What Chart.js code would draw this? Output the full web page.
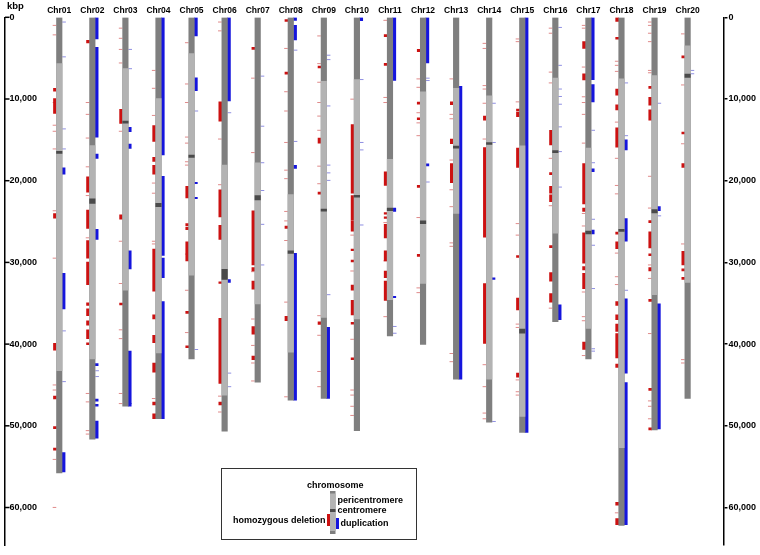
<!DOCTYPE html>
<html><head><meta charset="utf-8">
<script src="https://cdn.jsdelivr.net/npm/chart.js@4.4.1/dist/chart.umd.min.js"></script>
<style>html,body{margin:0;padding:0;background:#fff;}#wrap{width:760px;height:555px;}</style>
</head><body><div id="wrap"><canvas id="c" width="760" height="555"></canvas></div>
<script>
const chromosomes = ['Chr01','Chr02','Chr03','Chr04','Chr05','Chr06','Chr07','Chr08','Chr09','Chr10','Chr11','Chr12','Chr13','Chr14','Chr15','Chr16','Chr17','Chr18','Chr19','Chr20'];
const chromLength = [55770,51630,47610,49140,41810,50670,44670,46870,46660,50590,39000,40030,44300,49560,50800,37260,41810,62180,50510,46660];
const periStart = [5670,15690,6290,9940,4430,18090,17800,21690,7830,7620,17390,9110,8690,9610,15730,7450,16020,7540,7120,3480];
const periEnd = [43260,41810,33410,41070,31550,46240,35070,40990,36720,36930,34570,32580,24010,44300,48850,26410,38090,52660,33950,32460];
const centStart = [16400,22230,12700,22770,16850,30840,21820,28570,23470,21780,23350,24920,15770,15320,38170,16310,26170,25960,23520,6960];
const centEnd = [16650,22770,12950,23180,17140,32090,22360,28900,23730,22030,23680,25250,16030,15570,38670,16560,26500,26210,23930,7370];
const yTicks = [0,10000,20000,30000,40000,50000,60000];

// homozygous deletions: [chromosome number, start kbp, end kbp]
const deletions = [
[1,8690,9030],[1,9940,11760],[1,24010,24590],[1,39910,40740],[1,46370,46700],[1,50090,50340],[1,52740,52990],
[2,2820,3150],[2,19540,21400],[2,23600,25830],[2,27320,29480],[2,29970,32710],[2,34940,35270],[2,35690,36520],[2,37140,37670],[2,38250,39330],[2,39830,40080],
[3,11260,13000],[3,24180,24720],[3,34980,35190],
[4,13250,15190],[4,17140,17640],[4,18130,19210],[4,28360,33530],[4,36430,36930],[4,38920,39830],[4,42310,43430],[4,47110,47440],[4,48520,49140],
[5,20700,22110],[5,25250,25500],[5,25670,26000],[5,27490,29810],[5,35980,36230],[5,40200,40450],
[6,10350,12710],[6,21110,24430],[6,25460,27200],[6,32380,32580],[6,36850,44800],[6,47110,47440],
[7,3690,3930],[7,23680,30310],[7,30640,31050],[7,32290,33290],[7,37840,38790],[7,41480,41900],
[8,290,500],[8,6710,6960],[8,25540,25830],[8,36600,37140],
[9,5960,6210],[9,14780,15400],[9,21400,21650],[9,37260,37590],
[10,13120,21530],[10,21820,24840],[10,24920,26170],[10,28360,28570],[10,29730,29930],[10,32790,33410],[10,34650,36430],[10,37340,37550],[10,41690,41900],
[11,2110,2360],[11,5630,5880],[11,18920,20580],[11,23890,24100],[11,24430,24630],[11,25340,26990],[11,28570,29810],[11,31050,31880],[11,32290,34650],
[12,3930,4220],[12,10390,10640],[12,12300,12540],[12,20580,20820],[12,29020,29270],
[13,10350,10680],[13,14900,15480],[13,17890,20250],
[14,12090,12590],[14,15940,26910],[14,32580,39910],
[15,11220,11470],[15,11590,12170],[15,16020,18380],[15,29150,29390],[15,34360,35810],[15,43550,44050],
[16,13830,15610],[16,19000,19250],[16,20700,21530],[16,21740,22560],[16,27950,28190],[16,31260,32290],[16,33820,34860],
[17,2980,3810],[17,6910,7660],[17,17890,22850],[17,23350,23760],[17,26370,30100],[17,30510,30930],[17,31340,33200],[17,39740,40660],
[18,0,500],[18,2440,2690],[18,8780,9520],[18,10720,11340],[18,13540,15900],[18,26290,26540],[18,27490,28320],[18,34780,35270],[18,36430,37010],[18,37550,38460],[18,38710,41690],[18,42440,42850],[18,59370,59700],[18,61360,62100],
[19,8450,8690],[19,9810,10760],[19,11340,12590],[19,24880,25130],[19,26250,28240],[19,28940,29190],[19,30640,31050],[19,34530,34780],[19,45420,45660],[19,50260,50510],
[20,4720,4970],[20,14040,14280],[20,17890,18380],[20,28650,30310],[20,30800,31050],[20,31840,32090]
];
// small deletion marks: [chromosome number, position kbp]
const deletionMarks = [
[1,990],[1,2150],[1,10430],[1,13210],[1,13950],[1,16110],[1,23680],[1,29480],[1,45000],[1,45620],[1,54110],[1,59990],
[2,10430],[2,11880],[2,14780],[2,18300],[2,21820],[2,26990],[2,46040],[2,47070],[2,50590],[2,51010],
[3,1330],[3,2570],[3,3930],[3,5590],[3,13950],[3,27410],[3,32580],[3,38250],[3,39330],[3,46040],[3,47280],
[4,6500],[4,8690],[4,12010],[4,20290],[4,21530],[4,27410],[4,27740],[4,46660],
[5,3110],[5,8160],[5,10430],[5,14660],[5,15400],[5,17680],[5,18090],[5,28980],[5,33410],[5,38590],
[6,580],[6,1660],[6,14900],[6,20490],[6,46370],[6,48310],
[7,7450],[7,16560],[7,31130],[7,36930],[7,40160],[7,42310],[7,44510],
[8,3810],[8,9110],[8,11470],[8,15320],[8,18710],[8,19750],[8,23760],[8,24920],[8,27320],[8,34860],[8,46450],
[9,2280],[9,5670],[9,7950],[9,10430],[9,12090],[9,13830],[9,18220],[9,20370],[9,36520],[9,38920],[9,43350],[9,45210],
[10,10020],[10,26660],[10,31050],[10,39410],[10,45620],[10,46240],[10,47610],[10,48730],
[11,370],[11,9810],[11,10430],[11,25130],[11,29810],[11,36640],
[12,7540],[12,8570],[12,11680],[12,12920],[12,14490],[12,24510],[12,33120],[12,33700],
[13,7540],[13,11880],[13,12420],[13,17470],[13,21110],[13,23180],[13,27610],[13,28030],[13,41150],[13,42150],
[14,3190],[14,3810],[14,8360],[14,8780],[14,10520],[14,14900],[14,42520],[14,45210],[14,48440],[14,49140],
[15,2650],[15,2980],[15,10350],[15,25250],[15,26660],[15,37550],[15,37960],[15,44380],[15,45830],[15,46240],
[16,1330],[16,1950],[16,6710],[16,8030],[16,17260],[16,23060],[16,35600],
[17,990],[17,1330],[17,6090],[17,9730],[17,10430],[17,11880],[17,15400],[17,24010],[17,25540],[17,33620],[17,36640],[17,37140],[17,41400],
[18,5380],[18,5880],[18,6620],[18,12830],[18,17260],[18,20580],[18,21610],[18,28860],[18,31750],[18,32710],[18,60650],
[19,580],[19,990],[19,1950],[19,2980],[19,6500],[19,6790],[19,19460],[19,23350],[19,30310],[19,31960],[19,38710],[19,46950],[19,47610],[19,49140],
[20,2030],[20,8280],[20,15480],[20,27740],[20,41900],[20,42310]
];
// duplications: [chromosome number, start kbp, end kbp]
const duplications = [
[1,18420,19210],[1,31340,35690],[1,53280,55640],
[2,0,2650],[2,3690,14660],[2,16730,17260],[2,25960,27200],[2,42390,42640],[2,46740,46990],[2,47360,47610],[2,49430,51500],
[3,13460,13990],[3,15530,16060],[3,28570,30800],[3,40860,47610],
[4,0,16850],[4,19460,29150],[4,29480,31880],[4,34780,49140],
[5,0,2280],[5,7410,8980],[5,20200,20370],[5,22030,22190],
[6,0,10230],[6,32090,32460],
[8,0,370],[8,990,2770],[8,18130,18510],[8,28900,46870],
[9,37960,46660],
[10,0,410],
[11,0,7740],[11,23350,23760],[11,34160,34320],
[12,0,5590],[12,17930,18180],
[13,8450,44300],
[14,31880,32090],
[15,0,50800],
[16,35190,37010],
[17,0,7620],[17,8240,10350],[17,18550,18880],[17,26040,26500],
[18,14990,16230],[18,24630,27410],[18,34450,43550],[18,44710,62100],
[19,23180,23680],[19,35070,50380]
];
// small duplication marks: [chromosome number, position kbp]
const duplicationMarks = [
[1,580],[1,4840],[1,13660],[1,16110],[1,38380],[1,44590],
[2,43260],[2,43970],
[3,3930],[3,6290],[3,47280],
[5,11470],[5,40660],
[6,11680],[6,43550],[6,45210],
[7,7200],[7,13330],[7,17800],[7,21200],[7,25340],[7,30310],
[8,4020],[8,15190],
[9,4640],[9,5180],[9,10850],[9,18090],[9,19040],[9,19960],[9,33950],
[10,7620],[10,15320],[10,16230],[10,25420],
[11,37840],[11,38670],
[12,7450],[12,7740],[12,20160],
[14,10520],[14,15320],[14,49470],
[16,1240],[16,5880],[16,8780],[16,9690],[16,10640],[16,13410],[16,16440],[16,20780],
[17,13830],[17,17800],[17,24720],[17,27900],[17,33200],[17,40570],[17,40860],
[18,8030],[18,14490],[18,33410],
[19,10520],[19,24300],
[20,6500],[20,6910]
];

const FONT = "'Liberation Sans', Arial, sans-serif";
const DARK = '#7f7f7f', LIGHT = '#b3b3b3', CENT = '#4a4a4a';
const RED = '#cc1111', BLUE = '#1515dd', RED_T = '#e08a8a', BLUE_T = '#8f8fe2';
const SIDE = 0.13;   // offset of side bars, in chromosome units
const MARK = 0.145;

const idx = chromosomes.map((c, i) => i + 1);

const overlay = {
  id: 'overlay',
  afterDraw(chart) {
    const ctx = chart.ctx;
    const ys = chart.scales.y;
    const left = chart.chartArea.left;
    ctx.save();
    ctx.strokeStyle = '#000'; ctx.lineWidth = 1.5;
    yTicks.forEach(v => {
      const p = ys.getPixelForValue(v);
      ctx.beginPath(); ctx.moveTo(left, p); ctx.lineTo(left + 4.5, p); ctx.stroke();
    });
    ctx.fillStyle = '#000';
    ctx.font = 'bold 9.5px ' + FONT;
    ctx.textBaseline = 'alphabetic'; ctx.textAlign = 'left';
    ctx.fillText('kbp', 7, 9);

    // legend box
    ctx.strokeStyle = '#333'; ctx.lineWidth = 1;
    ctx.strokeRect(221.5, 468.5, 195, 71);
    ctx.fillStyle = DARK; ctx.fillRect(330, 491, 5.5, 43);
    ctx.fillStyle = LIGHT; ctx.fillRect(330, 493.5, 5.5, 37.5);
    ctx.fillStyle = CENT; ctx.fillRect(330, 509, 5.5, 3);
    ctx.fillStyle = RED; ctx.fillRect(327, 514, 3, 12);
    ctx.fillStyle = BLUE; ctx.fillRect(336, 518, 3, 11);
    ctx.fillStyle = '#000';
    ctx.font = 'bold 9px ' + FONT;
    ctx.textBaseline = 'middle';
    ctx.textAlign = 'left';
    ctx.fillText('chromosome', 307, 485.5);
    ctx.fillText('pericentromere', 337.5, 501);
    ctx.fillText('centromere', 337.5, 511);
    ctx.fillText('duplication', 340.5, 523.5);
    ctx.textAlign = 'right';
    ctx.fillText('homozygous deletion', 325.5, 520.5);
    ctx.restore();
  }
};

const barBase = { type: 'bar', grouped: false, borderWidth: 0, borderSkipped: false };

new Chart(document.getElementById('c'), {
  type: 'bar',
  data: {
    datasets: [
      Object.assign({}, barBase, { label: 'centromere', order: 1, barThickness: 5.5, backgroundColor: CENT,
        data: idx.map((x, i) => ({ x, y: [centStart[i], centEnd[i]] })) }),
      Object.assign({}, barBase, { label: 'pericentromere', order: 2, barThickness: 5.5, backgroundColor: LIGHT,
        data: idx.map((x, i) => ({ x, y: [periStart[i], periEnd[i]] })) }),
      Object.assign({}, barBase, { label: 'chromosome', order: 3, barThickness: 5.5, backgroundColor: DARK,
        data: idx.map((x, i) => ({ x, y: [0, chromLength[i]] })) }),
      Object.assign({}, barBase, { label: 'homozygous deletion', order: 4, barThickness: 3, backgroundColor: RED,
        data: deletions.map(d => ({ x: d[0] - SIDE, y: [d[1], d[2]] })) }),
      Object.assign({}, barBase, { label: 'duplication', order: 5, barThickness: 3, backgroundColor: BLUE,
        data: duplications.map(d => ({ x: d[0] + SIDE, y: [d[1], d[2]] })) }),
      { type: 'scatter', label: 'deletion marks', order: 6, pointStyle: 'line', pointRadius: 1.8, borderWidth: 1,
        borderColor: RED_T, backgroundColor: RED_T,
        data: deletionMarks.map(d => ({ x: d[0] - MARK, y: d[1] })) },
      { type: 'scatter', label: 'duplication marks', order: 7, pointStyle: 'line', pointRadius: 1.8, borderWidth: 1,
        borderColor: BLUE_T, backgroundColor: BLUE_T,
        data: duplicationMarks.map(d => ({ x: d[0] + MARK, y: d[1] })) }
    ]
  },
  options: {
    responsive: false, animation: false, devicePixelRatio: 1,
    events: [],
    layout: { padding: { left: 0, right: 3, top: 0, bottom: 0 } },
    plugins: { legend: { display: false }, tooltip: { enabled: false } },
    scales: {
      x: {
        type: 'linear', position: 'top', min: -0.641, max: 21.084, offset: false,
        grid: { display: false, drawTicks: false, offset: false }, border: { display: false },
        afterBuildTicks: s => { s.ticks = idx.map(v => ({ value: v })); },
        afterFit: s => { s.height = 17.3; },
        ticks: { autoSkip: false, maxRotation: 0, minRotation: 0, padding: 2, color: '#000',
          font: { family: FONT, size: 8.5, weight: 'bold' },
          callback: v => chromosomes[v - 1] || '' }
      },
      y: {
        type: 'linear', position: 'left', reverse: true, min: 0, max: 64600,
        afterBuildTicks: s => { s.ticks = yTicks.map(v => ({ value: v })); },
        afterFit: s => { s.width = 2.5; },
        grid: { drawOnChartArea: false, drawTicks: false },
        border: { display: true, color: '#000', width: 1.5 },
        ticks: { mirror: true, padding: 4.5, color: '#000', font: { family: FONT, size: 9, weight: 'bold' },
          callback: v => v.toLocaleString('en-US') }
      },
      y2: {
        type: 'linear', position: 'right', reverse: true, min: 0, max: 64600,
        afterBuildTicks: s => { s.ticks = yTicks.map(v => ({ value: v })); },
        grid: { drawOnChartArea: false, drawTicks: true, tickLength: 4, color: '#000', lineWidth: 1.5 },
        border: { display: true, color: '#000', width: 1.5 },
        ticks: { padding: 1, color: '#000', font: { family: FONT, size: 9, weight: 'bold' },
          callback: v => v.toLocaleString('en-US') }
      }
    }
  },
  plugins: [overlay]
});
</script>
</body></html>
